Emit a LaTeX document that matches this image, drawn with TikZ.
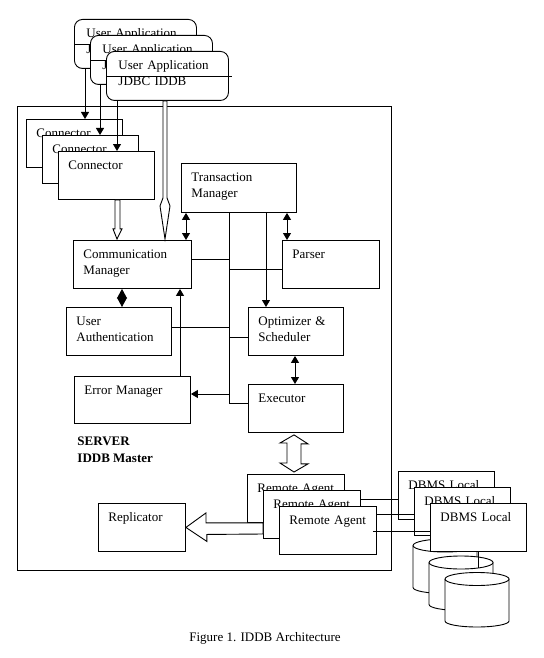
\documentclass[tikz,border=0pt]{standalone}
\usepackage{fontspec}
\setmainfont{Liberation Serif}
\usepackage{tikz}
\usetikzlibrary{calc}
\usetikzlibrary{arrows.meta}
\tikzset{>={Triangle[length=7pt,width=8pt]}}

\begin{document}
\begin{tikzpicture}[x=1pt, y=-1pt, line width=0.9pt,
    font=\fontsize{13}{16}\selectfont,
    block/.style={draw, fill=white, anchor=north west, align=left,
                  inner xsep=10pt, inner ysep=4pt,
                  text height=14pt, text depth=26pt, text width=76pt},
    app/.style={block, rounded corners=8pt, inner xsep=12pt,
                text width=98pt, text depth=27pt}]
\useasboundingbox (0,0) rectangle (543,658);

% server frame
\draw (17,106) rectangle (391,570);

\node[app] (app1) at (74,19) {User Application\\JDBC IDDB};
\draw ($(app1.north west)+(0,25)$) -- ($(app1.north east)+(3,25)$);
\node[app] (app2) at (90,35) {User Application\\JDBC IDDB};
\draw ($(app2.north west)+(0,25)$) -- ($(app2.north east)+(3,25)$);
\node[app] (app3) at (106,51) {User Application\\JDBC IDDB};
\draw ($(app3.north west)+(0,25)$) -- ($(app3.north east)+(3,25)$);

\node[block] (conn1) at (26,119) {Connector};
\node[block] (conn2) at (42,135) {Connector};
\node[block] (conn3) at (58,151) {Connector};

	\draw [->] ($(app1.south west)+(11,0)$) -- ($(conn1.north west)+(59,0)$);
	\draw [->] ($(app2.south west)+(10,0)$) -- ($(conn2.north west)+(58,0)$);
	\draw [->] ($(app3.south west)+(11,0)$) -- ($(conn3.north west)+(59,0)$);

\node[block, text width=95pt, text depth=27pt] (tm) at (181,163) {Transaction\\Manager};
\node[block, text width=98pt] (cm) at (73,240) {Communication\\Manager};
\node[block, text width=77pt] (parser) at (282,240) {Parser};
\node[block, text width=85pt] (ua) at (66,307) {User\\Authentication};
\node[block, text width=75pt] (opt) at (248,307) {Optimizer \&\\Scheduler};
\node[block, text width=96pt, text depth=25pt] (em) at (74,376) {Error Manager};
\node[block, text width=75pt] (exec) at (248,384) {Executor};
\node[anchor=north west, align=left, inner sep=0pt,
      font=\fontsize{13}{17}\selectfont\bfseries] (server) at (77,436) {SERVER\\IDDB Master};

% hollow arrows into the communication manager
	\draw [fill=white] ($(app3.south west)+(57,0)$) -- ($(app3.south west)+(57,97)$)
		-- ($(app3.south west)+(54,105)$) -- ($(cm.north west)+(92,-1)$)
		-- ($(app3.south west)+(64,105)$) -- ($(app3.south west)+(61,97)$)
		-- ($(app3.south west)+(61,0)$) -- cycle;
	\draw [fill=white] ($(conn3.south west)+(57,0)$) -- ($(conn3.south west)+(57,29)$)
		-- ($(conn3.south west)+(55,29)$) -- ($(cm.north west)+(44,-1)$)
		-- ($(conn3.south west)+(64,29)$) -- ($(conn3.south west)+(62,29)$)
		-- ($(conn3.south west)+(62,0)$) -- cycle;

	\draw [<->] ($(tm.south west)+(5,0)$) -- ($(cm.north west)+(113,0)$);
	\draw [<->] ($(tm.south west)+(106,0)$) -- ($(parser.north west)+(5,0)$);
	\draw [<->, >={Triangle[length=9.5pt,width=10pt]}] ($(cm.south west)+(49,0)$) -- ($(ua.north west)+(56,0)$);
	\draw [->] ($(em.north west)+(106,0)$) -- ($(cm.south west)+(107,0)$);
	\draw [->] ($(tm.south west)+(85,0)$) -- ($(opt.north west)+(18,0)$);
	\draw [<->] ($(opt.south west)+(47,0)$) -- ($(exec.north west)+(47,0)$);

% bus from the transaction manager
\coordinate (bus) at ($(tm.south west)+(48,0)$);
	\draw (bus) |- ($(exec.north west)+(0,19)$);
	\draw ($(cm.north east)+(0,19)$) -- ++(38,0);
	\draw ($(parser.north west)+(0,29)$) -- ++(-53,0);
	\draw ($(ua.north east)+(0,20)$) -- ++(58,0);
	\draw ($(opt.north west)+(0,30)$) -- ++(-19,0);
	\draw [->] ($(em.north east)+(39,18)$) -- ($(em.north east)+(0,18)$);

\node[block, text width=67pt] (repl) at (98,503) {Replicator};
\node[block, text width=77pt] (ra1) at (247,474) {Remote Agent};
\node[block, text width=77pt] (ra2) at (263,490) {Remote Agent};
\node[block, text width=77pt] (ra3) at (279,506) {Remote Agent};

	\draw [fill=white] ($(exec.south west)+(46,2)$) -- ++(14,9) -- ++(-7,0) -- ++(0,20) -- ++(7,0)
		-- ($(ra1.north west)+(47,-2)$) -- ++(-14,-9) -- ++(7,0) -- ++(0,-20) -- ++(-7,0) -- cycle;
	\draw [fill=white] (ra1.south west) -- ++(-41,0) -- ++(0,-10) -- (repl.east) -- ++(21,14) -- ++(0,-7)
		-- ($(ra2.north west)+(0,44)$) -- (ra2.west |- ra1.south) -- cycle;

% local databases
\foreach \cx/\cy in {445/545.5, 461/562.5, 477/579}{
	\draw [fill=white] (\cx-32,\cy) -- (\cx-32,\cy+42)
		arc [start angle=180, end angle=0, x radius=32, y radius=6] -- (\cx+32,\cy);
	\draw [fill=white] (\cx,\cy) ellipse [x radius=32, y radius=6.5];
}
\coordinate (cyl2top) at (478,568);

\node[block] (d1) at (398,471) {DBMS Local};
\node[block] (d2) at (414,487) {DBMS Local};
\node[block] (d3) at (430,503) {DBMS Local};

	\draw ($(ra2.north east)+(0,9)$) -- ($(d1.north west)+(0,28)$);
	\draw ($(ra3.north east)+(0,8)$) -- ($(d2.north west)+(0,27)$);
	\draw ($(ra3.north east)+(-4,25)$) -- ($(d3.north west)+(0,28)$);
	\draw ($(d3.south west)+(48,0)$) -- (cyl2top);

\node (caption) at (265,638) {Figure 1. IDDB Architecture};
\end{tikzpicture}
\end{document}
